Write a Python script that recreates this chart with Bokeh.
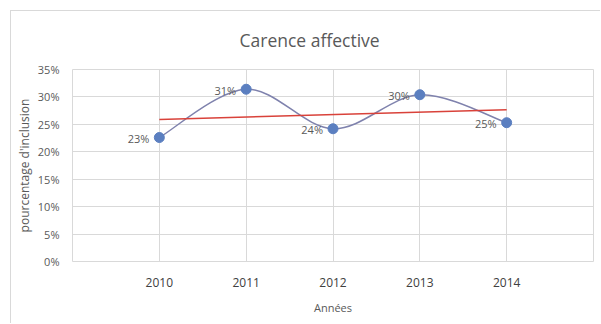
from bokeh.plotting import figure
from bokeh.models import Range1d, FixedTicker
from bokeh.core.properties import value
from bokeh.embed import file_html
from bokeh.resources import INLINE
import numpy as np

# Data
years = [2010, 2011, 2012, 2013, 2014]
pct = [22.6, 31.4, 24.2, 30.4, 25.3]
grid_years = [2009, 2010, 2011, 2012, 2013, 2014, 2015]
y_ticks = [0, 5, 10, 15, 20, 25, 30, 35]
y_tick_labels = ["0%", "5%", "10%", "15%", "20%", "25%", "30%", "35%"]
title_text = "Carence affective"
x_title = "Années"
y_title = "pourcentage d'inclusion"

FONT = "Open Sans"
TXT = "#595959"
GRID = "#d9d9d9"

p = figure(
    width=590, height=313,
    x_range=Range1d(2009, 2015), y_range=Range1d(0, 35),
    output_backend="svg", toolbar_location=None,
    min_border_left=61, min_border_right=8,
    min_border_top=58, min_border_bottom=63,
)
p.styles = {
    "margin-left": "10px", "margin-top": "10px",
    "border-left": f"1px solid {GRID}", "border-top": f"1px solid {GRID}",
}

# Title
p.title.text = title_text
p.title.align = "left"
p.title.vertical_align = "top"
p.title.offset = 167
p.title.standoff = 32
p.title.text_font = FONT
p.title.text_font_size = "17.5px"
p.title.text_font_style = "normal"
p.title.text_color = TXT

# Frame and grid
p.outline_line_color = GRID
p.xgrid.grid_line_color = GRID
p.ygrid.grid_line_color = GRID
p.background_fill_color = "white"
p.border_fill_color = "white"

# X axis
p.xaxis.ticker = FixedTicker(ticks=grid_years)
p.xaxis.major_label_overrides = {y: (str(y) if y in years else "") for y in grid_years}
p.xaxis.axis_line_color = None
p.xaxis.major_tick_line_color = None
p.xaxis.minor_tick_line_color = None
p.xaxis.major_tick_out = 0
p.xaxis.major_tick_in = 0
p.xaxis.minor_tick_out = 0
p.xaxis.minor_tick_in = 0
p.xaxis.major_label_standoff = 16
p.xaxis.major_label_text_font = FONT
p.xaxis.major_label_text_font_size = "12px"
p.xaxis.major_label_text_color = "#404040"
p.xaxis.axis_label = x_title
p.xaxis.axis_label_standoff = 10
p.xaxis.axis_label_text_font = FONT
p.xaxis.axis_label_text_font_size = "11px"
p.xaxis.axis_label_text_font_style = "normal"
p.xaxis.axis_label_text_color = TXT

# Y axis
p.yaxis.ticker = FixedTicker(ticks=y_ticks)
p.yaxis.major_label_overrides = dict(zip(y_ticks, y_tick_labels))
p.yaxis.axis_line_color = None
p.yaxis.major_tick_line_color = None
p.yaxis.minor_tick_line_color = None
p.yaxis.major_tick_out = 0
p.yaxis.major_tick_in = 0
p.yaxis.minor_tick_out = 0
p.yaxis.minor_tick_in = 0
p.yaxis.major_label_standoff = 13
p.yaxis.major_label_text_font = FONT
p.yaxis.major_label_text_font_size = "11px"
p.yaxis.major_label_text_color = TXT
p.yaxis.axis_label = y_title
p.yaxis.axis_label_standoff = 2
p.yaxis.axis_label_text_font = FONT
p.yaxis.axis_label_text_font_size = "12px"
p.yaxis.axis_label_text_font_style = "normal"
p.yaxis.axis_label_text_color = TXT

# Smoothed series line (Catmull-Rom segments as cubic Beziers)
n = len(years)
x0, y0, x1, y1, cx0, cy0, cx1, cy1 = ([] for _ in range(8))
for i in range(n - 1):
    ip = max(i - 1, 0)
    inx = min(i + 2, n - 1)
    x0.append(years[i]); y0.append(pct[i])
    x1.append(years[i + 1]); y1.append(pct[i + 1])
    cx0.append(years[i] + (years[i + 1] - years[ip]) / 6)
    cy0.append(pct[i] + (pct[i + 1] - pct[ip]) / 6)
    cx1.append(years[i + 1] - (years[inx] - years[i]) / 6)
    cy1.append(pct[i + 1] - (pct[inx] - pct[i]) / 6)
p.bezier(x0=x0, y0=y0, x1=x1, y1=y1, cx0=cx0, cy0=cy0, cx1=cx1, cy1=cy1,
         line_color="#7f82ad", line_width=1.5)

# Linear trend line
slope, intercept = np.polyfit(years, pct, 1)
trend_x = [years[0], years[-1]]
trend_y = [slope * x + intercept for x in trend_x]
p.line(trend_x, trend_y, line_color="#d9423a", line_width=1.5)

# Markers
p.scatter(years, pct, size=10, fill_color="#5b7fc0", line_color="#5b7fc0")

# Data labels
labels = [f"{round(v)}%" for v in pct]
p.text(x=years, y=pct, text=labels, text_align="right", text_baseline="middle",
       x_offset=-10, y_offset=1, text_font=value(FONT), text_font_size="11px",
       text_color=TXT)

open("out.html", "w").write(file_html(p, INLINE))
